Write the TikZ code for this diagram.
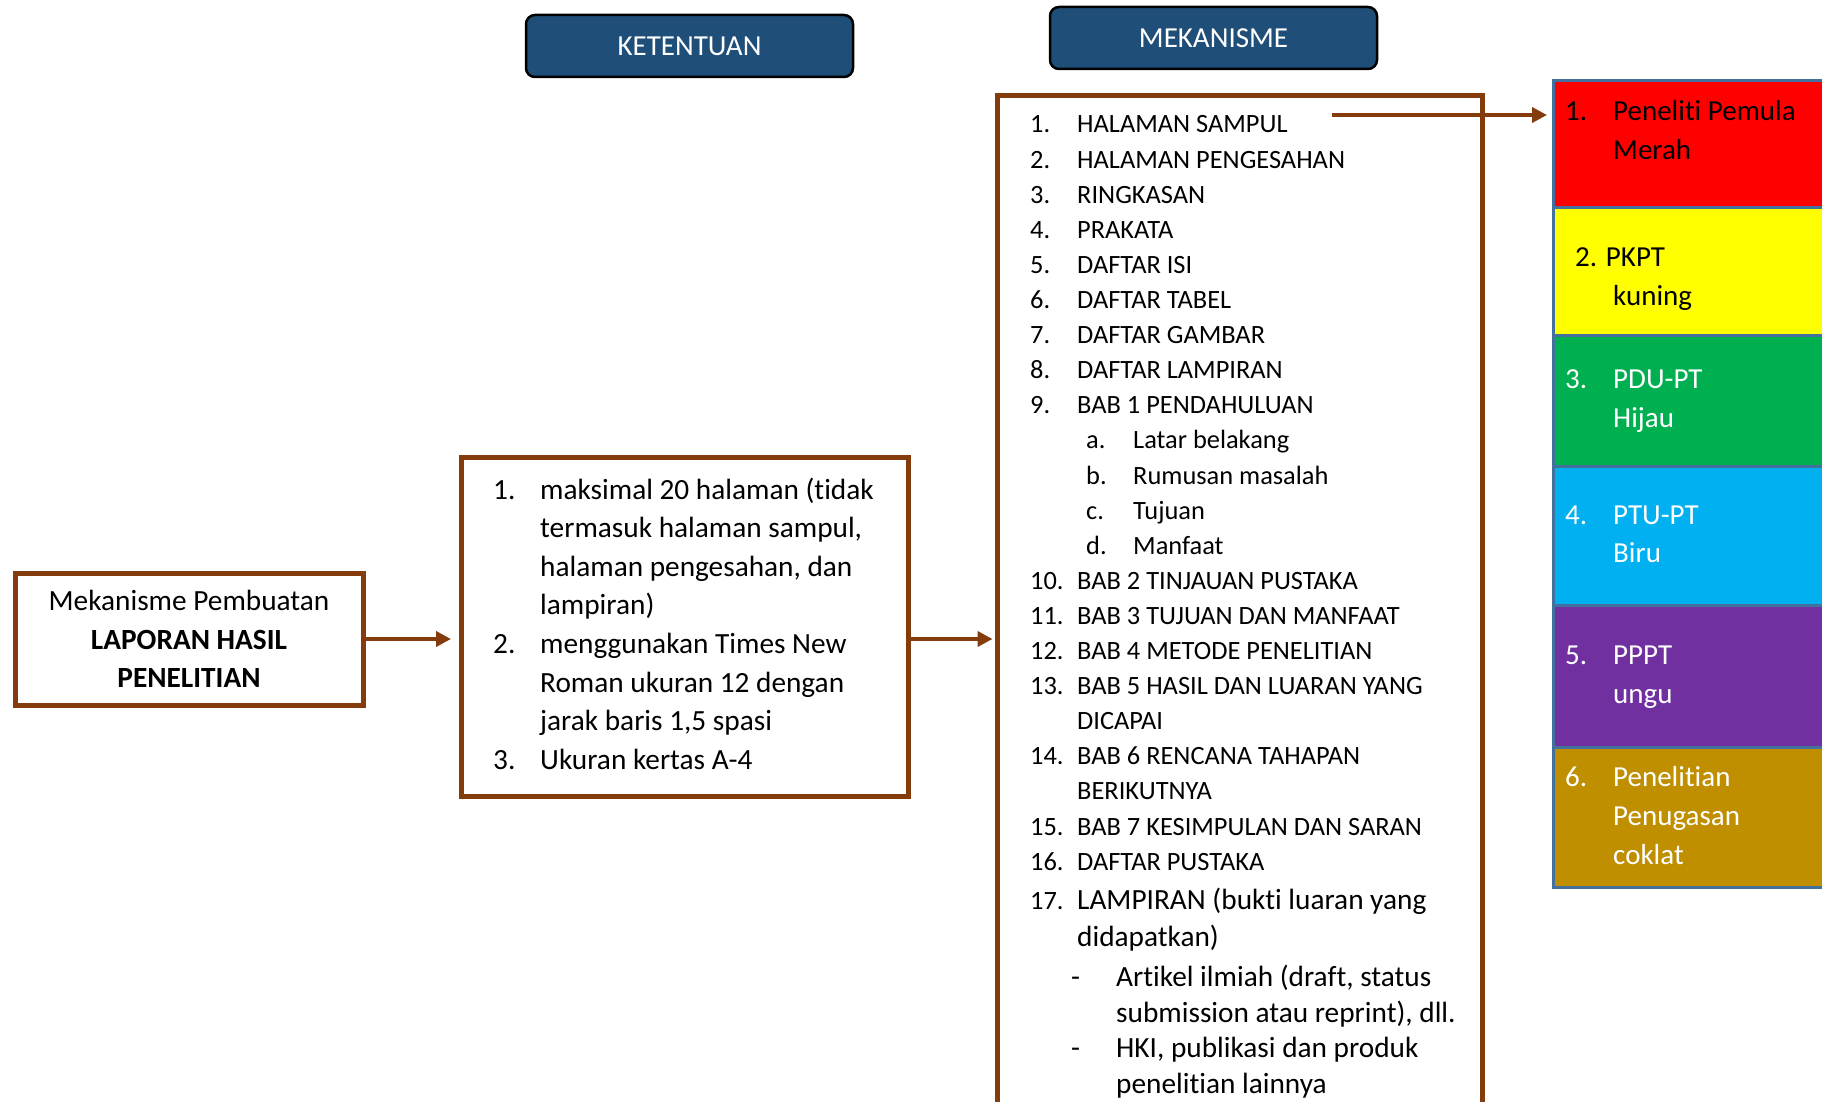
\documentclass[tikz,border=0pt]{standalone}
\usepackage{fontspec}
\setmainfont{Carlito}[Ligatures={NoCommon,NoContextual}]
\usetikzlibrary{arrows.meta}
\definecolor{brn}{HTML}{843C0C}
\definecolor{hdrblue}{HTML}{1F4E79}
\definecolor{stkb}{HTML}{41719C}
\definecolor{cred}{HTML}{FF0000}
\definecolor{cyel}{HTML}{FFFF00}
\definecolor{cgrn}{HTML}{00B050}
\definecolor{cblu}{HTML}{00B0F0}
\definecolor{cpur}{HTML}{7030A0}
\definecolor{cgld}{HTML}{BF8F00}
\begin{document}
\begin{tikzpicture}[x=1pt,y=-1pt,
  box/.style={draw=brn, line width=5pt, inner sep=0pt},
  arr/.style={draw=brn, line width=4pt, -{Triangle[length=15pt,width=15pt]}},
  hdr/.style={draw=black, line width=2.5pt, fill=hdrblue, rounded corners=9pt, text=white,
    font=\fontsize{29}{34}\selectfont, minimum width=327pt, minimum height=62pt, inner sep=0pt},
  mt/.style={anchor=base west, inner sep=0pt, font=\fontsize{26.4}{32}\selectfont},
  kt/.style={anchor=base west, inner sep=0pt, font=\fontsize{29.3}{35}\selectfont},
  stk/.style={draw=stkb, line width=3pt, inner sep=0pt, anchor=north west, minimum width=290pt},
  st/.style={anchor=base west, inner sep=0pt, font=\fontsize{29}{35}\selectfont}
]
\useasboundingbox[fill=white] (0,0) rectangle (1822,1102);

% headers
\node[hdr] (ket) at (689.5,46) {KETENTUAN};
\node[hdr] (mek) at (1213.5,38) {MEKANISME};

% left box
\node[box, minimum width=348pt, minimum height=132pt, align=center,
  font=\fontsize{29.3}{38.5}\selectfont] (left) at (189,639)
  {Mekanisme Pembuatan\\\textbf{LAPORAN HASIL}\\\textbf{PENELITIAN}};

% ketentuan box
\node[box, minimum width=447pt, minimum height=339pt] (kbox) at (685,626.5) {};
\node[kt] (k1n) at (493,499) {1.};
\node[kt] (k1a) at (540,499) {maksimal 20 halaman (tidak};
\node[kt] (k1b) at (540,537.6) {termasuk halaman sampul,};
\node[kt] (k1c) at (540,576.2) {halaman pengesahan, dan};
\node[kt] (k1d) at (540,614.8) {lampiran)};
\node[kt] (k2n) at (493,653.4) {2.};
\node[kt] (k2a) at (540,653.4) {menggunakan Times New};
\node[kt] (k2b) at (540,692) {Roman ukuran 12 dengan};
\node[kt] (k2c) at (540,730.6) {jarak baris 1,5 spasi};
\node[kt] (k3n) at (493,769.2) {3.};
\node[kt] (k3a) at (540,769.2) {Ukuran kertas A-4};

% mekanisme box
\node[box, minimum width=485pt, minimum height=1040pt, anchor=north west] (mbox) at (994.5,93) {};
\node[mt] (m1n) at (1030,133) {1.};   \node[mt] (m1) at (1077,133) {HALAMAN SAMPUL};
\node[mt] (m2n) at (1030,168.1) {2.}; \node[mt] (m2) at (1077,168.1) {HALAMAN PENGESAHAN};
\node[mt] (m3n) at (1030,203.2) {3.}; \node[mt] (m3) at (1077,203.2) {RINGKASAN};
\node[mt] (m4n) at (1030,238.3) {4.}; \node[mt] (m4) at (1077,238.3) {PRAKATA};
\node[mt] (m5n) at (1030,273.4) {5.}; \node[mt] (m5) at (1077,273.4) {DAFTAR ISI};
\node[mt] (m6n) at (1030,308.5) {6.}; \node[mt] (m6) at (1077,308.5) {DAFTAR TABEL};
\node[mt] (m7n) at (1030,343.6) {7.}; \node[mt] (m7) at (1077,343.6) {DAFTAR GAMBAR};
\node[mt] (m8n) at (1030,378.7) {8.}; \node[mt] (m8) at (1077,378.7) {DAFTAR LAMPIRAN};
\node[mt] (m9n) at (1030,413.8) {9.}; \node[mt] (m9) at (1077,413.8) {BAB 1 PENDAHULUAN};
\node[mt] (m9an) at (1086,448.9) {a.}; \node[mt] (m9a) at (1133,448.9) {Latar belakang};
\node[mt] (m9bn) at (1086,484) {b.};   \node[mt] (m9b) at (1133,484) {Rumusan masalah};
\node[mt] (m9cn) at (1086,519.1) {c.}; \node[mt] (m9c) at (1133,519.1) {Tujuan};
\node[mt] (m9dn) at (1086,554.2) {d.}; \node[mt] (m9d) at (1133,554.2) {Manfaat};
\node[mt] (m10n) at (1030,589.3) {10.}; \node[mt] (m10) at (1077,589.3) {BAB 2 TINJAUAN PUSTAKA};
\node[mt] (m11n) at (1030,624.4) {11.}; \node[mt] (m11) at (1077,624.4) {BAB 3 TUJUAN DAN MANFAAT};
\node[mt] (m12n) at (1030,659.5) {12.}; \node[mt] (m12) at (1077,659.5) {BAB 4 METODE PENELITIAN};
\node[mt] (m13n) at (1030,694.6) {13.}; \node[mt] (m13) at (1077,694.6) {BAB 5 HASIL DAN LUARAN YANG};
\node[mt] (m13b) at (1077,729.7) {DICAPAI};
\node[mt] (m14n) at (1030,764.8) {14.}; \node[mt] (m14) at (1077,764.8) {BAB 6 RENCANA TAHAPAN};
\node[mt] (m14b) at (1077,799.9) {BERIKUTNYA};
\node[mt] (m15n) at (1030,835) {15.}; \node[mt] (m15) at (1077,835) {BAB 7 KESIMPULAN DAN SARAN};
\node[mt] (m16n) at (1030,870.1) {16.}; \node[mt] (m16) at (1077,870.1) {DAFTAR PUSTAKA};
\node[mt] (m17n) at (1030,909) {17.};
\node[kt] (m17) at (1077,909) {LAMPIRAN (bukti luaran yang};
\node[kt] (m17b) at (1077,946) {didapatkan)};
\node[kt] (d1n) at (1071,986) {-};  \node[kt] (d1) at (1116,986) {Artikel ilmiah (draft, status};
\node[kt] (d1b) at (1116,1022) {submission atau reprint), dll.};
\node[kt] (d2n) at (1071,1057) {-};  \node[kt] (d2) at (1116,1057) {HKI, publikasi dan produk};
\node[kt] (d2b) at (1116,1093) {penelitian lainnya};

% colour stack
\node[stk, fill=cred, minimum height=127pt] (red) at (1552,79) {};
\node[stk, fill=cyel, minimum height=128pt] (yel) at (1552,206) {};
\node[stk, fill=cgrn, minimum height=131pt] (grn) at (1552,334) {};
\node[stk, fill=cblu, minimum height=139pt] (blu) at (1552,465) {};
\node[stk, fill=cpur, minimum height=142pt] (pur) at (1552,604) {};
\node[stk, fill=cgld, minimum height=140pt] (gld) at (1552,746) {};

\node[st] (r1n) at (1565,121) {1.}; \node[st] (r1) at (1613,121) {Peneliti Pemula};
\node[st] (r2) at (1613,160) {Merah};
\node[st] (y1) at (1575,266) {2. PKPT};
\node[st] (y2) at (1613,305) {kuning};
\node[st, text=white] (g1n) at (1565,388) {3.}; \node[st, text=white] (g1) at (1613,388) {PDU-PT};
\node[st, text=white] (g2) at (1613,427) {Hijau};
\node[st, text=white] (b1n) at (1565,524) {4.}; \node[st, text=white] (b1) at (1613,524) {PTU-PT};
\node[st, text=white] (b2) at (1613,562) {Biru};
\node[st, text=white] (p1n) at (1565,664) {5.}; \node[st, text=white] (p1) at (1613,664) {PPPT};
\node[st, text=white] (p2) at (1613,703) {ungu};
\node[st, text=white] (c1n) at (1565,786) {6.}; \node[st, text=white] (c1) at (1613,786) {Penelitian};
\node[st, text=white] (c2) at (1613,825) {Penugasan};
\node[st, text=white] (c3) at (1613,864) {coklat};

% connectors
\draw[arr, shorten >=8pt] (left.east) -- (left.east -| kbox.west);
\draw[arr, shorten >=2pt] (left.east -| kbox.east) -- (left.east -| mbox.west);
\coordinate (sampulEnd) at (1332,115);
\draw[arr, shorten >=5pt] (sampulEnd) -- (sampulEnd -| red.west);
\end{tikzpicture}
\end{document}
